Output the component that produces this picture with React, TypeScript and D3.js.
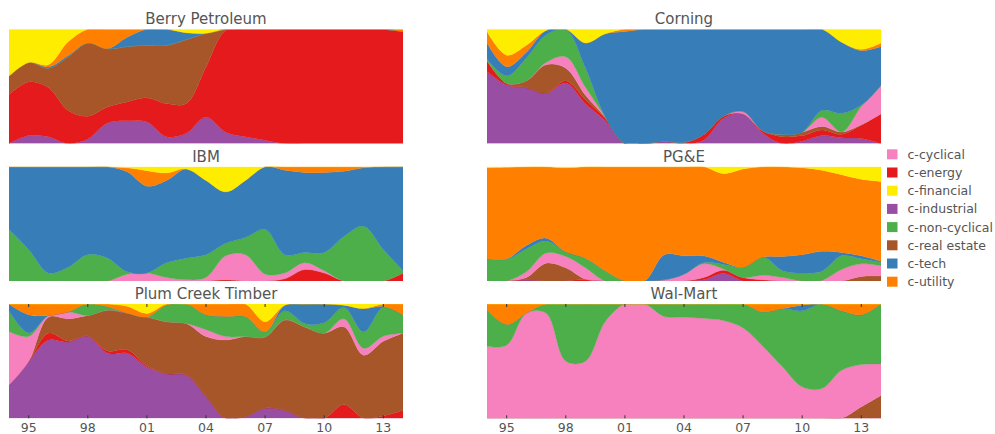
import React from 'react';
import * as d3 from 'd3';

const years = [1994, 1995, 1996, 1997, 1998, 1999, 2000, 2001, 2002, 2003, 2004, 2005, 2006, 2007, 2008, 2009, 2010, 2011, 2012, 2013, 2014];

// legend order
const sectors = ['c-cyclical', 'c-energy', 'c-financial', 'c-industrial', 'c-non-cyclical', 'c-real estate', 'c-tech', 'c-utility'];
const sectorColors = ['#f781bf', '#e41a1c', '#ffed00', '#984ea3', '#4daf4a', '#a65628', '#377eb8', '#ff7f00'];

// bottom to top
const stackOrder = ['c-industrial', 'c-energy', 'c-real estate', 'c-cyclical', 'c-non-cyclical', 'c-tech', 'c-utility', 'c-financial'];

const tickYears = [1995, 1998, 2001, 2004, 2007, 2010, 2013];
const tickLabels = ['95', '98', '01', '04', '07', '10', '13'];

const companies = ['Berry Petroleum', 'Corning', 'IBM', 'PG&E', 'Plum Creek Timber', 'Wal-Mart'];

type Shares = Record<string, number[]>;

const berryPetroleum: Shares = {
  'c-industrial': [0, 0.07, 0.06, 0, 0.04, 0.18, 0.2, 0.19, 0.06, 0.09, 0.23, 0.1, 0.06, 0.03, 0, 0, 0, 0, 0, 0, 0],
  'c-energy': [0.43, 0.47, 0.43, 0.29, 0.2, 0.14, 0.165, 0.21, 0.29, 0.26, 0.44, 0.89, 0.94, 0.97, 0.995, 1, 1, 1, 1, 1, 0.98],
  'c-real estate': [0.16, 0.17, 0.17, 0.47, 0.64, 0.51, 0.485, 0.46, 0.51, 0.56, 0.295, 0.01, 0, 0, 0.005, 0, 0, 0, 0, 0, 0],
  'c-tech': [0, 0, 0.01, 0.01, 0, 0, 0.08, 0.14, 0.14, 0.06, 0, 0, 0, 0, 0, 0, 0, 0, 0, 0, 0],
  'c-utility': [0, 0, 0.02, 0.12, 0.12, 0.17, 0.07, 0, 0, 0, 0, 0, 0, 0, 0, 0, 0, 0, 0, 0, 0.02],
  'c-financial': [0.41, 0.29, 0.31, 0.11, 0, 0, 0, 0, 0, 0.03, 0.035, 0, 0, 0, 0, 0, 0, 0, 0, 0, 0],
};

const corning: Shares = {
  'c-industrial': [0.63, 0.51, 0.49, 0.44, 0.53, 0.35, 0.2, 0, 0, 0.02, 0, 0.03, 0.22, 0.26, 0.09, 0, 0.02, 0.07, 0.05, 0.045, 0],
  'c-energy': [0.09, 0.01, 0, 0, 0.02, 0.035, 0.02, 0, 0, 0, 0.01, 0.05, 0.02, 0, 0.02, 0.06, 0.05, 0.05, 0.03, 0.115, 0.26],
  'c-real estate': [0.01, 0.005, 0.06, 0.25, 0.11, 0.04, 0.01, 0, 0, 0, 0, 0, 0, 0, 0, 0.02, 0.03, 0.03, 0.02, 0.005, 0],
  'c-cyclical': [0, 0, 0, 0.02, 0.1, 0.07, 0.005, 0, 0, 0, 0, 0, 0, 0.02, 0, 0, 0, 0.08, 0, 0.16, 0.25],
  'c-non-cyclical': [0.01, 0.065, 0.2, 0.24, 0.235, 0.17, 0, 0, 0, 0, 0, 0, 0, 0, 0, 0, 0, 0.06, 0.16, 0.01, 0],
  'c-tech': [0.14, 0.08, 0.05, 0.04, 0.005, 0.22, 0.725, 0.98, 1, 0.98, 0.99, 0.92, 0.76, 0.72, 0.89, 0.92, 0.9, 0.71, 0.61, 0.48, 0.34],
  'c-utility': [0.1, 0.1, 0.06, 0, 0, 0, 0, 0.02, 0, 0, 0, 0, 0, 0, 0, 0, 0, 0, 0, 0.01, 0.03],
  'c-financial': [0.02, 0.225, 0.14, 0.01, 0, 0.12, 0.04, 0, 0, 0, 0, 0, 0, 0, 0, 0, 0, 0, 0.11, 0.175, 0.12],
};

const ibm: Shares = {
  'c-energy': [0, 0, 0, 0, 0, 0, 0, 0, 0, 0, 0, 0.01, 0, 0, 0.02, 0.1, 0.07, 0, 0, 0, 0.07],
  'c-cyclical': [0, 0, 0, 0, 0, 0, 0.06, 0.07, 0.03, 0.01, 0.03, 0.21, 0.23, 0.06, 0.05, 0.06, 0.02, 0, 0, 0, 0],
  'c-non-cyclical': [0.45, 0.275, 0.07, 0.12, 0.23, 0.2, 0.02, 0, 0.13, 0.19, 0.2, 0.11, 0.15, 0.39, 0.16, 0.09, 0.16, 0.39, 0.48, 0.275, 0.02],
  'c-tech': [0.55, 0.725, 0.93, 0.88, 0.77, 0.8, 0.875, 0.76, 0.72, 0.78, 0.65, 0.45, 0.5, 0.55, 0.74, 0.7, 0.7, 0.57, 0.51, 0.725, 0.91],
  'c-utility': [0, 0, 0, 0, 0, 0, 0.035, 0.135, 0.065, 0, 0, 0, 0, 0, 0.03, 0.05, 0.05, 0.04, 0.01, 0, 0],
  'c-financial': [0, 0, 0, 0, 0, 0, 0.01, 0.035, 0.055, 0.02, 0.12, 0.22, 0.12, 0, 0, 0, 0, 0, 0, 0, 0],
};

const pge: Shares = {
  'c-industrial': [0, 0, 0.01, 0, 0, 0, 0, 0, 0, 0, 0, 0.01, 0.065, 0, 0, 0, 0, 0, 0, 0, 0],
  'c-energy': [0, 0, 0, 0, 0, 0.015, 0, 0, 0, 0, 0, 0.02, 0.03, 0.03, 0.01, 0, 0, 0, 0, 0, 0],
  'c-real estate': [0, 0, 0.02, 0.155, 0.115, 0, 0, 0, 0, 0, 0, 0, 0, 0, 0, 0, 0, 0, 0, 0.04, 0.043],
  'c-cyclical': [0, 0, 0.05, 0.09, 0.1, 0.1, 0, 0, 0, 0.01, 0.06, 0.12, 0.01, 0, 0.04, 0.03, 0, 0.005, 0.1, 0.11, 0.09],
  'c-non-cyclical': [0.195, 0.19, 0.2, 0.105, 0.04, 0.085, 0.09, 0, 0, 0, 0, 0.01, 0.04, 0.09, 0.16, 0.06, 0.07, 0.08, 0.12, 0.045, 0.03],
  'c-tech': [0, 0.005, 0.03, 0.025, 0, 0, 0, 0, 0, 0.22, 0.16, 0.06, 0.02, 0, 0, 0.125, 0.16, 0.175, 0.03, 0.025, 0.01],
  'c-utility': [0.795, 0.8, 0.69, 0.625, 0.735, 0.8, 0.91, 1, 1, 0.77, 0.78, 0.78, 0.775, 0.86, 0.79, 0.785, 0.76, 0.71, 0.68, 0.67, 0.7],
  'c-financial': [0.01, 0.005, 0, 0, 0.01, 0, 0, 0, 0, 0, 0, 0, 0.06, 0.02, 0, 0, 0.01, 0.03, 0.07, 0.11, 0.13],
};

const plumCreek: Shares = {
  'c-industrial': [0.29, 0.5, 0.685, 0.67, 0.72, 0.58, 0.57, 0.44, 0.39, 0.38, 0.19, 0, 0.015, 0.09, 0.07, 0, 0, 0, 0, 0, 0],
  'c-energy': [0, 0, 0.06, 0.01, 0, 0.02, 0.03, 0.01, 0, 0, 0, 0, 0, 0, 0, 0, 0, 0.12, 0, 0.02, 0.07],
  'c-real estate': [0, 0, 0.14, 0.195, 0.18, 0.365, 0.32, 0.415, 0.455, 0.45, 0.525, 0.685, 0.7, 0.625, 0.79, 0.8, 0.745, 0.68, 0.555, 0.65, 0.675],
  'c-cyclical': [0.47, 0.22, 0.015, 0.06, 0, 0, 0, 0, 0, 0, 0.06, 0.03, 0, 0, 0, 0, 0, 0.07, 0.06, 0.045, 0],
  'c-non-cyclical': [0.18, 0.03, 0, 0, 0.1, 0.03, 0, 0, 0.145, 0.17, 0.13, 0.175, 0.175, 0.045, 0.08, 0.03, 0.09, 0.1, 0.145, 0.25, 0.16],
  'c-tech': [0.06, 0.16, 0, 0, 0, 0, 0, 0, 0, 0, 0, 0, 0, 0, 0.05, 0.17, 0.165, 0.02, 0.205, 0.01, 0],
  'c-utility': [0, 0.095, 0.1, 0.07, 0, 0.025, 0.06, 0.03, 0.01, 0, 0.095, 0.11, 0.11, 0.09, 0, 0, 0, 0, 0, 0.02, 0.095],
  'c-financial': [0, 0, 0, 0, 0, 0, 0.02, 0.08, 0, 0, 0, 0, 0, 0.155, 0.01, 0, 0, 0.01, 0.04, 0, 0],
};

const walMart: Shares = {
  'c-real estate': [0, 0, 0, 0, 0, 0, 0, 0, 0, 0, 0, 0, 0, 0, 0, 0, 0, 0, 0, 0.1, 0.2],
  'c-cyclical': [0.63, 0.64, 0.92, 0.92, 0.5, 0.5, 0.845, 1, 1, 0.89, 0.885, 0.875, 0.855, 0.79, 0.63, 0.45, 0.275, 0.26, 0.42, 0.37, 0.275],
  'c-non-cyclical': [0.32, 0.18, 0, 0.08, 0.5, 0.5, 0.155, 0, 0, 0.11, 0.115, 0.125, 0.145, 0.21, 0.3, 0.51, 0.665, 0.74, 0.52, 0.435, 0.525],
  'c-tech': [0, 0, 0, 0, 0, 0, 0, 0, 0, 0, 0, 0, 0, 0, 0, 0, 0.05, 0, 0, 0, 0],
  'c-utility': [0.05, 0.18, 0.08, 0, 0, 0, 0, 0, 0, 0, 0, 0, 0, 0, 0.07, 0.04, 0.01, 0, 0.06, 0.095, 0],
};

const panelData: Shares[] = [berryPetroleum, corning, ibm, pge, plumCreek, walMart];

const W = 995;
const H = 434;
const colX = [9, 487];
const panelW = 394;
const rowY = [29.3, 166.7, 304];
const panelH = 114.3;
const textColor = '#555555';
const font = '"DejaVu Sans", sans-serif';

const colorOf = (s: string) => sectorColors[sectors.indexOf(s)];

const Panel = ({ idx }: { idx: number }) => {
  const col = idx % 2;
  const row = Math.floor(idx / 2);
  const x0 = colX[col];
  const y0 = rowY[row];
  const shares = panelData[idx];

  const x = d3.scaleLinear().domain([1994, 2014]).range([x0, x0 + panelW]);
  const y = d3.scaleLinear().domain([0, 1]).range([y0 + panelH, y0]);

  const rows = years.map((yr, i) => {
    const r: Record<string, number> = { year: yr };
    stackOrder.forEach(s => {
      r[s] = shares[s] ? shares[s][i] : 0;
    });
    return r;
  });

  const series = d3.stack<Record<string, number>>()
    .keys(stackOrder)
    .offset(d3.stackOffsetExpand)(rows);

  const area = d3.area<d3.SeriesPoint<Record<string, number>>>()
    .x(d => x(d.data.year))
    .y0(d => y(d[0]))
    .y1(d => y(d[1]))
    .curve(d3.curveCatmullRom.alpha(0.5));

  const clipId = `clip-${idx}`;

  return (
    <g>
      <defs>
        <clipPath id={clipId}>
          <rect x={x0} y={y0} width={panelW} height={panelH} />
        </clipPath>
      </defs>
      <g clipPath={`url(#${clipId})`}>
        {series.map(s => (
          <path key={s.key} d={area(s) as string} fill={colorOf(s.key)} stroke={colorOf(s.key)} strokeWidth={0.3} />
        ))}
      </g>
      <text
        x={x0 + panelW / 2}
        y={y0 - 5}
        textAnchor="middle"
        fontSize={15}
        fill={textColor}
        fontFamily={font}
      >
        {companies[idx]}
      </text>
      {row === 2 && tickYears.map((t, i) => (
        <g key={t}>
          <line x1={x(t)} x2={x(t)} y1={y0} y2={y0 + 3} stroke="#333" strokeWidth={1} />
          <line x1={x(t)} x2={x(t)} y1={y0 + panelH} y2={y0 + panelH - 3} stroke="#333" strokeWidth={1} />
          <text
            x={x(t)}
            y={y0 + panelH + 13.3}
            textAnchor="middle"
            fontSize={12.5}
            fill={textColor}
            fontFamily={font}
          >
            {tickLabels[i]}
          </text>
        </g>
      ))}
    </g>
  );
};

const Legend = () => {
  const lx = 887;
  const ly = 154.3;
  const step = 18.2;
  return (
    <g>
      {sectors.map((s, i) => (
        <g key={s}>
          <rect x={lx} y={ly + i * step - 5} width={10.5} height={10} fill={sectorColors[i]} />
          <text
            x={lx + 20.5}
            y={ly + i * step + 4.5}
            fontSize={12.5}
            fill={textColor}
            fontFamily={font}
          >
            {s}
          </text>
        </g>
      ))}
    </g>
  );
};

export default function App() {
  return (
    <svg
      width={W}
      height={H}
      style={{ position: 'absolute', left: 0, top: 0, background: '#fff' }}
    >
      {companies.map((c, i) => (
        <Panel key={c} idx={i} />
      ))}
      <Legend />
    </svg>
  );
}
